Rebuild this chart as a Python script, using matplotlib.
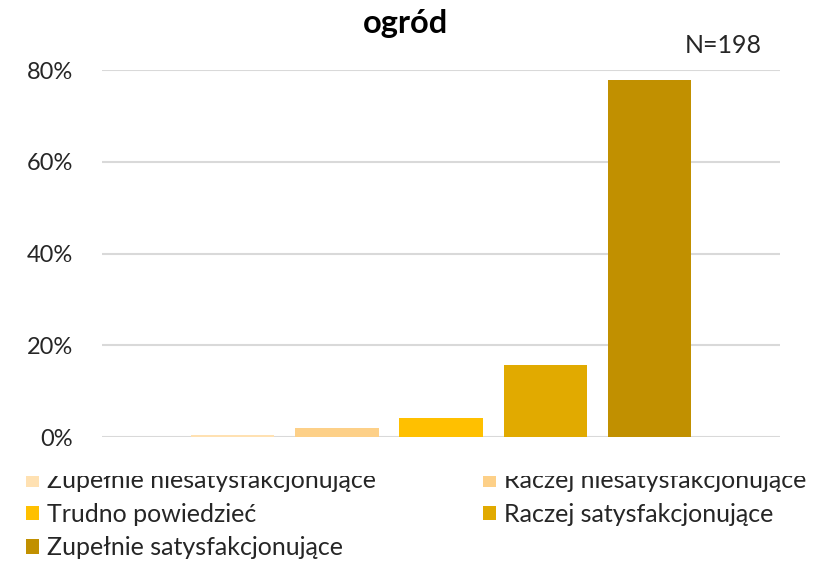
import matplotlib.pyplot as plt
from matplotlib.patches import Rectangle
from matplotlib.ticker import PercentFormatter

plt.rcParams['font.family'] = ['Lato', 'DejaVu Sans']

# odpowiedzi (N=198)
labels = ['Zupełnie niesatysfakcjonujące', 'Raczej niesatysfakcjonujące',
          'Trudno powiedzieć', 'Raczej satysfakcjonujące', 'Zupełnie satysfakcjonujące']
values = [0.0051, 0.0202, 0.0404, 0.1566, 0.7778]
colors = ['#FFE1B2', '#FDD088', '#FFC000', '#E1AA00', '#C19000']
title = 'ogród'
n_text = 'N=198'

fig = plt.figure(figsize=(8.37, 5.62), dpi=100)
ax = fig.add_axes([0.122, 0.2224, 0.810, 0.6530])

bars = []
for i, (lab, v, c) in enumerate(zip(labels, values, colors)):
    bars.append(ax.bar(i, v, width=0.8, color=c, label=lab, zorder=2))

ax.set_xlim(-1.25, 5.25)
ax.set_ylim(0, 0.8)
ax.set_yticks([0, 0.2, 0.4, 0.6, 0.8])
ax.yaxis.set_major_formatter(PercentFormatter(1.0, decimals=0))
ax.set_xticks([])
ax.grid(axis='y', color='#D9D9D9', linewidth=1.5, zorder=0)
ax.tick_params(axis='y', length=0, labelsize=17, colors='#262626', pad=21)
for s in ax.spines.values():
    s.set_visible(False)

fig.text(0.485, 0.959, title, ha='center', va='center', fontsize=23.5, fontweight='bold')
fig.text(0.864, 0.919, n_text, ha='center', va='center', fontsize=18, color='#262626')

# legenda wierszami: kolejność uchwytów dla ncol=2
order = [0, 2, 4, 1, 3]
handles = [bars[i] for i in order]
leg = fig.legend(handles, [labels[i] for i in order], loc='upper left',
                 bbox_to_anchor=(0.031, 0.165), ncol=2, frameon=False,
                 fontsize=18, handlelength=0.52, handleheight=0.52, handletextpad=0.32,
                 labelspacing=0.42, columnspacing=4.3, borderaxespad=0, borderpad=0)
for t in leg.get_texts():
    t.set_color('#262626')

# górna krawędź legendy przycięta
fig.add_artist(Rectangle((0, (562 - 476) / 562), 1, 0.03, transform=fig.transFigure,
                         facecolor='white', edgecolor='none', zorder=10))

fig.savefig('out.png', dpi=100)
